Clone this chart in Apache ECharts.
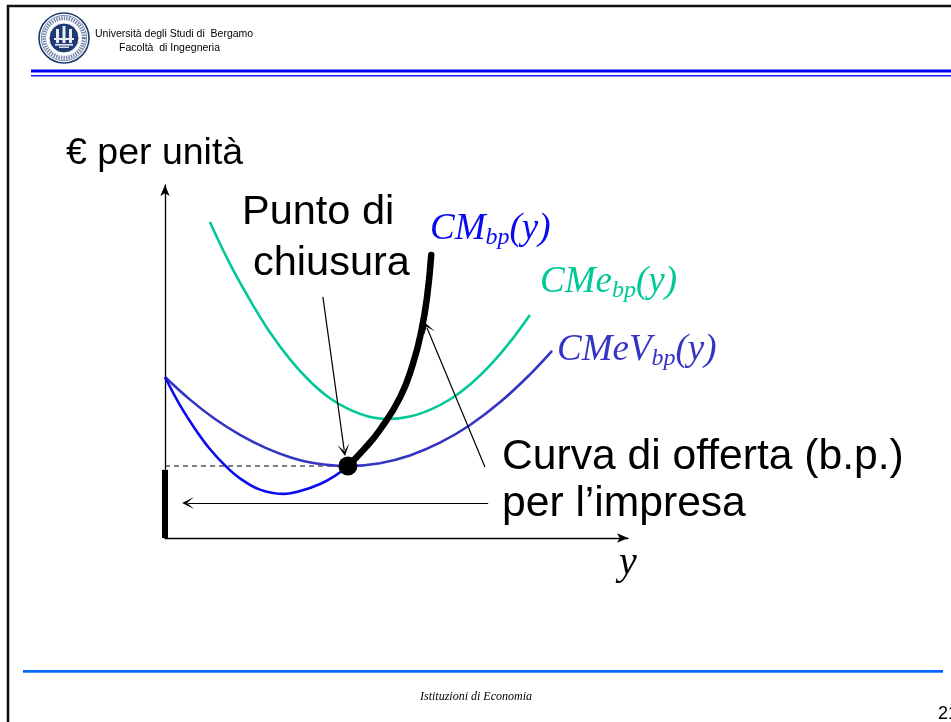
<!DOCTYPE html>
<html>
<head>
<meta charset="utf-8">
<script src="https://cdn.jsdelivr.net/npm/echarts@6/dist/echarts.min.js"></script>
<style>
  html, body { margin: 0; padding: 0; background: #fff; }
  #chart { width: 951px; height: 722px; }
</style>
</head>
<body>
<div id="chart"></div>
<script>
// Short-run cost curves of a firm: x = output y, y = € per unit

// Average variable cost CMeV_bp(y)
const cmevCurve = [[0, 45.6], [5.4, 39.2], [10.8, 33.7], [16.2, 29.2], [21.6, 25.6], [27.0, 22.9],
  [32.4, 21.2], [39.5, 20.4], [46.4, 21.2], [52.9, 23.4], [59.4, 27.0], [65.9, 32.0],
  [72.4, 38.5], [78.8, 46.3], [83.6, 53.0]];

// Marginal cost CM_bp(y), below the shutdown point
const cmCurve = [[0, 45.6], [3.2, 37.7], [6.5, 30.9], [9.7, 25.2], [13.0, 20.5], [16.2, 16.9],
  [20.5, 13.7], [25.5, 12.5], [29.2, 13.3], [33.5, 15.3], [36.7, 17.6], [39.5, 20.4]];

// Marginal cost above the shutdown point = short-run supply curve
const supplyCurve = [[39.5, 20.4], [43.0, 25.2], [46.4, 30.6], [50.8, 39.9], [53.6, 49.6],
  [55.4, 58.9], [56.6, 68.3], [57.5, 80.2]];

// Average total cost CMe_bp(y)
const cmeCurve = [[9.7, 89.5], [14.0, 77.7], [18.4, 67.3], [22.7, 58.2], [27.0, 50.6], [31.3, 44.4],
  [35.6, 39.6], [40.0, 36.3], [44.3, 34.3], [48.2, 33.7], [52.9, 34.4], [57.2, 36.3],
  [61.6, 39.3], [65.9, 43.5], [70.2, 48.9], [74.5, 55.5], [78.8, 63.2]];

// Shutdown point (minimum of CMeV) and the zero-output part of the supply
const shutdownPoint = [39.5, 20.4];
const zeroOutputSegment = [[0, 0], [0, 19.3]];
const shutdownPriceLine = [[0, 20.4], [39.5, 20.4]];

// Pointer arrows: [from, to]
const pointerArrows = [
  [[34.1, 68.3], [38.7, 24.9]],
  [[69.1, 20.1], [56.6, 59.5]],
  [[69.8, 9.9], [5.0, 9.9]]
];

// Texts
const headerLines = ['Università degli Studi di  Bergamo', 'Facoltà  di Ingegneria'];
const yAxisTitle = '€ per unità';
const xAxisTitle = 'y';
const shutdownLabel = ['Punto di', 'chiusura'];
const supplyLabel = ['Curva di offerta (b.p.)', 'per l’impresa'];
const curveNames = [
  { base: 'CM', sub: 'bp' },
  { base: 'CMe', sub: 'bp' },
  { base: 'CMeV', sub: 'bp' }
];
const footerText = 'Istituzioni di Economia';
const pageNumber = '21';

const COL_CM = '#0a0af0';
const COL_CME = '#00c896';
const COL_CMEV = '#3535c4';

const serif = '"Liberation Serif", "Times New Roman", serif';
const sans = '"Liberation Sans", Arial, sans-serif';

function curveLabel(name, x, baseline, color) {
  return {
    type: 'text', x: x, y: baseline - 32.5, z: 100, silent: true,
    style: {
      text: '{m|' + name.base + '}{s|' + name.sub + '}{m|(y)}',
      verticalAlign: 'top',
      rich: {
        m: { fontFamily: serif, fontStyle: 'italic', fontSize: 37, lineHeight: 40, fill: color },
        s: { fontFamily: serif, fontStyle: 'italic', fontSize: 24, lineHeight: 16, verticalAlign: 'bottom', fill: color }
      }
    }
  };
}

function plainText(text, x, y, size, opts) {
  opts = opts || {};
  return {
    type: 'text', x: x, y: y, z: 100, silent: true,
    style: {
      text: text, fill: opts.color || '#000',
      font: (opts.italic ? 'italic ' : '') + size + 'px ' + (opts.family || sans),
      verticalAlign: opts.va || 'middle', align: opts.align || 'left'
    }
  };
}

// University seal in the header
const NAVY = '#1e3a72';
const seal = [
  { type: 'circle', shape: { cx: 64, cy: 38, r: 25 }, style: { fill: '#fff', stroke: NAVY, lineWidth: 1.6 } },
  { type: 'circle', shape: { cx: 64, cy: 38, r: 19.8 }, style: { fill: 'none', stroke: '#6f80ab', lineWidth: 4, lineDash: [1.4, 1.1] } },
  { type: 'circle', shape: { cx: 64, cy: 38, r: 22.6 }, style: { fill: 'none', stroke: NAVY, lineWidth: 0.6 } },
  { type: 'circle', shape: { cx: 64, cy: 38, r: 15 }, style: { fill: NAVY, stroke: '#fff', lineWidth: 1 } },
  { type: 'rect', shape: { x: 56, y: 29, width: 3, height: 14 }, style: { fill: '#e8ecf5' } },
  { type: 'rect', shape: { x: 62.5, y: 26, width: 3, height: 17 }, style: { fill: '#e8ecf5' } },
  { type: 'rect', shape: { x: 69, y: 29, width: 3, height: 14 }, style: { fill: '#e8ecf5' } },
  { type: 'rect', shape: { x: 54, y: 38, width: 20, height: 2 }, style: { fill: '#e8ecf5' } },
  { type: 'rect', shape: { x: 55, y: 44, width: 18, height: 1.6 }, style: { fill: '#e8ecf5' } },
  { type: 'rect', shape: { x: 59, y: 46.5, width: 10, height: 1.4 }, style: { fill: '#e8ecf5' } }
];

const graphics = [].concat(
  [
    // slide frame
    { type: 'line', shape: { x1: 8, y1: 5, x2: 8, y2: 722 }, style: { stroke: '#111', lineWidth: 2.6 } },
    { type: 'line', shape: { x1: 7, y1: 6, x2: 951, y2: 6 }, style: { stroke: '#111', lineWidth: 2.4 } },
    // header rules
    { type: 'rect', shape: { x: 31, y: 69.5, width: 920, height: 3 }, style: { fill: '#0000ff' } },
    { type: 'rect', shape: { x: 31, y: 75, width: 920, height: 1.4 }, style: { fill: '#1a1aff' } },
    // footer rule
    { type: 'rect', shape: { x: 23, y: 670, width: 920, height: 2 }, style: { fill: '#0066ff' } },
    { type: 'rect', shape: { x: 23, y: 672, width: 920, height: 1 }, style: { fill: '#4d94ff' } }
  ],
  seal,
  [
    plainText(headerLines[0], 95, 34, 10.5),
    plainText(headerLines[1], 119, 48, 10.5),
    plainText(yAxisTitle, 66, 154, 37.5),
    plainText(xAxisTitle, 628, 563, 40, { italic: true, family: serif, align: 'center' }),
    plainText(shutdownLabel[0], 242, 212.6, 41.5),
    plainText(shutdownLabel[1], 253, 263.6, 41.5),
    plainText(supplyLabel[0], 502, 457.3, 42.6),
    plainText(supplyLabel[1], 502, 504.3, 42.6),
    curveLabel(curveNames[0], 430, 242, COL_CM),
    curveLabel(curveNames[1], 540, 295, COL_CME),
    curveLabel(curveNames[2], 557, 363, COL_CMEV),
    plainText(footerText, 420, 697, 12, { italic: true, family: serif }),
    plainText(pageNumber, 938, 714, 18)
  ]
);

const axisCommon = {
  type: 'value', min: 0, max: 100,
  axisTick: { show: false }, axisLabel: { show: false }, splitLine: { show: false },
  axisLine: { show: true, symbol: ['none', 'arrow'], symbolSize: [7, 11], lineStyle: { color: '#000', width: 1.3 } }
};

const arrowHead = 'path://M0,10 L5,0 L10,10 L5,4 Z';

const option = {
  animation: false,
  backgroundColor: '#fff',
  grid: { left: 165, top: 185, width: 463, height: 353 },
  xAxis: axisCommon,
  yAxis: axisCommon,
  graphic: graphics,
  series: [
    { type: 'line', data: cmeCurve, smooth: 0.4, showSymbol: false, lineStyle: { color: COL_CME, width: 2.6 }, z: 3 },
    { type: 'line', data: cmevCurve, smooth: 0.4, showSymbol: false, lineStyle: { color: COL_CMEV, width: 2.6 }, z: 3 },
    { type: 'line', data: cmCurve, smooth: 0.4, showSymbol: false, lineStyle: { color: COL_CM, width: 2.6 }, z: 4 },
    { type: 'line', data: supplyCurve, smooth: 0.5, showSymbol: false, lineStyle: { color: '#000', width: 6.5, cap: 'round' }, z: 5 },
    { type: 'line', data: zeroOutputSegment, showSymbol: false, lineStyle: { color: '#000', width: 6 }, z: 5 },
    { type: 'line', data: shutdownPriceLine, showSymbol: false, lineStyle: { color: '#000', width: 1.2, type: [5, 4] }, z: 2 },
    { type: 'scatter', data: [shutdownPoint], symbolSize: 19, itemStyle: { color: '#000', opacity: 1 }, z: 6 },
    {
      type: 'lines', coordinateSystem: 'cartesian2d', polyline: false,
      symbol: ['none', arrowHead], symbolSize: [9, 12],
      lineStyle: { color: '#000', width: 1.2, opacity: 1 },
      data: pointerArrows.map(function (a) { return { coords: a }; }),
      z: 6
    }
  ]
};

const chart = echarts.init(document.getElementById('chart'));
chart.setOption(option);
</script>
</body>
</html>
